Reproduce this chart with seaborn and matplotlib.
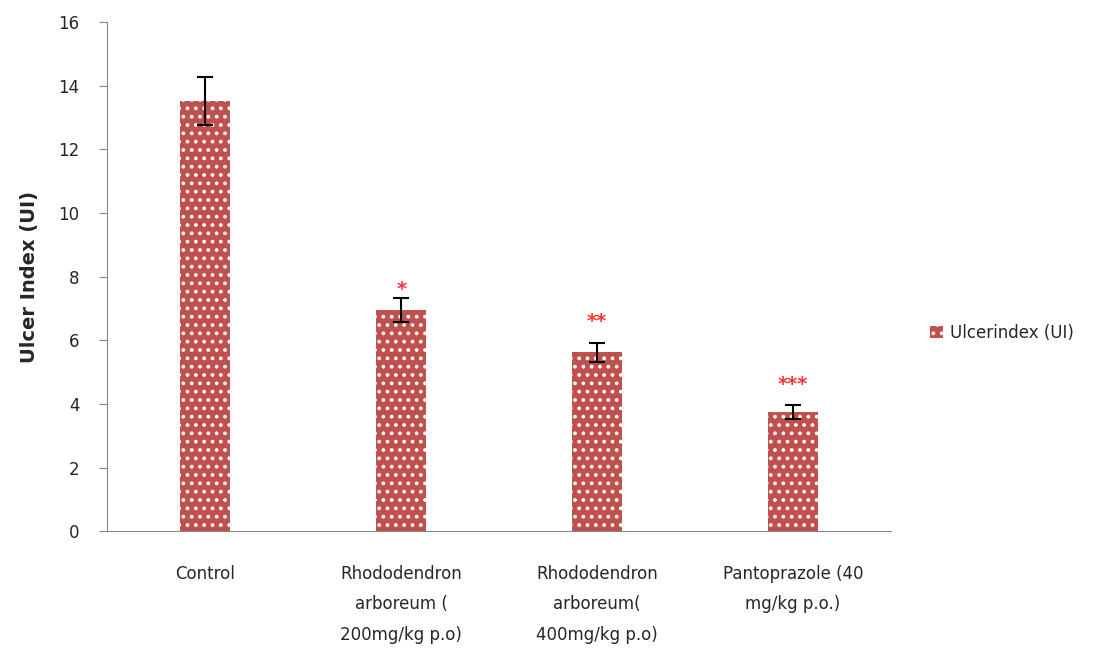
import matplotlib
matplotlib.use("Agg")
import matplotlib.pyplot as plt
import seaborn as sns
import pandas as pd

# Valores
grupos = ['Control', 'Rhododendron\narboreum (\n200mg/kg p.o)',
          'Rhododendron\narboreum(\n400mg/kg p.o)', 'Pantoprazole (40\nmg/kg p.o.)']
ulcer_index = [13.52, 6.95, 5.63, 3.74]
error = [0.75, 0.38, 0.30, 0.22]
estrellas = ['', '*', '**', '***']
pos_estrellas = [0, 7.6, 6.6, 4.6]

df = pd.DataFrame({'Grupo': grupos, 'UI': ulcer_index})

sns.set_style('white')
plt.rcParams['font.family'] = ['DejaVu Sans']
plt.rcParams['hatch.color'] = 'white'
plt.rcParams['hatch.linewidth'] = 1.5

fig, ax = plt.subplots(figsize=(11.18, 6.48), dpi=100)
sns.barplot(data=df, x='Grupo', y='UI', color='#C0504D', width=0.255,
            saturation=1, ax=ax, label='Ulcerindex (UI)')
for p in ax.patches:
    p.set_edgecolor('white')
    p.set_linewidth(0)
    p.set_hatch('..')

ax.errorbar(range(len(grupos)), ulcer_index, yerr=error, fmt='none',
            ecolor='black', elinewidth=1.5, capsize=6, capthick=1.5)

for i, s in enumerate(estrellas):
    if s:
        ax.text(i, pos_estrellas[i], s, color='#FF3333', ha='center',
                va='center', fontsize=14, fontweight='bold')

ax.set_ylim(0, 16)
ax.set_xlim(-0.5, 3.5)
ax.set_yticks(range(0, 17, 2))
ax.tick_params(axis='y', labelsize=12, length=6, color='#888888', direction='out',
               left=True, pad=14)
ax.tick_params(axis='x', labelsize=12, length=0, pad=24)
for lbl in ax.get_xticklabels():
    lbl.set_linespacing(1.9)
ax.set_xlabel('')
ax.set_ylabel('Ulcer Index (UI)', fontsize=14, fontweight='bold', labelpad=14)
for s in ['top', 'right']:
    ax.spines[s].set_visible(False)
ax.spines['left'].set_color('#888888')
ax.spines['bottom'].set_color('#888888')

leg = ax.legend(loc='center left', bbox_to_anchor=(1.03, 0.39), frameon=False,
                fontsize=12, handlelength=0.8, handleheight=0.8, handletextpad=0.4)
for h in leg.legend_handles:
    h.set_hatch('..')
    h.set_edgecolor('white')
    h.set_linewidth(0)

plt.subplots_adjust(left=0.096, right=0.797, top=0.966, bottom=0.18)
plt.savefig('out.png', dpi=100)
